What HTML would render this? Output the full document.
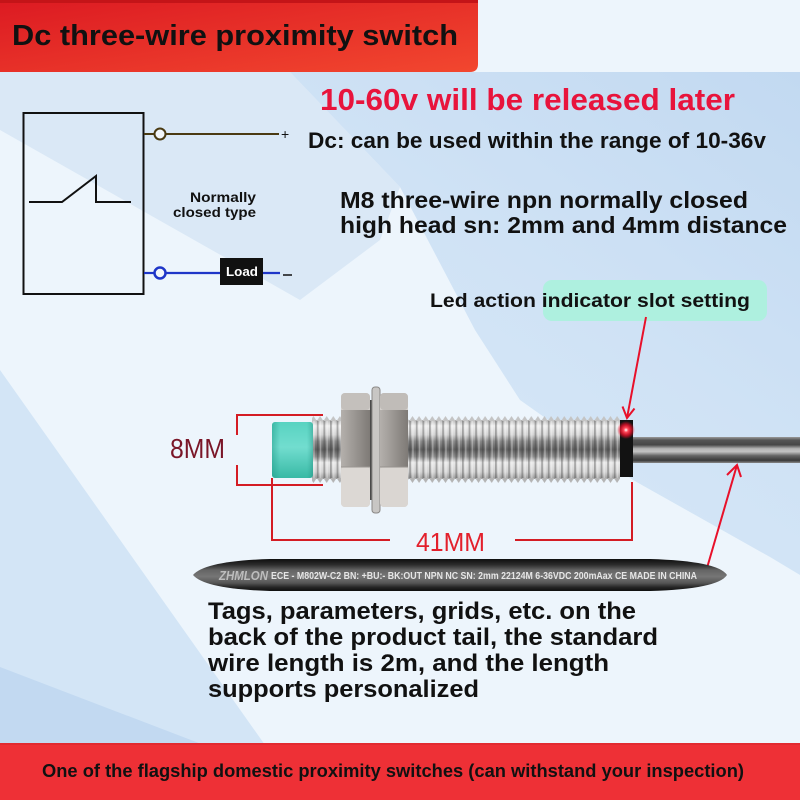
<!DOCTYPE html>
<html><head><meta charset="utf-8"><style>
html,body{margin:0;padding:0;background:#fff;}
svg{display:block;}
text{font-family:"Liberation Sans",sans-serif;}
</style></head><body>
<svg width="800" height="800" viewBox="0 0 800 800" xmlns="http://www.w3.org/2000/svg">
<defs>
<linearGradient id="hdr" x1="0" y1="0" x2="1" y2="1"><stop offset="0" stop-color="#dc1a22"/><stop offset="1" stop-color="#f2472f"/></linearGradient>
<linearGradient id="rw" x1="1" y1="0" x2="0.3" y2="1"><stop offset="0" stop-color="#c2d9f1"/><stop offset="0.5" stop-color="#cfe2f5"/><stop offset="1" stop-color="#d9e9f7"/></linearGradient>
<linearGradient id="metalV" x1="0" y1="0" x2="0" y2="1">
<stop offset="0" stop-color="#b8b8b8"/><stop offset="0.1" stop-color="#efefef"/><stop offset="0.25" stop-color="#d2d2d2"/><stop offset="0.36" stop-color="#8a8a8a"/><stop offset="0.5" stop-color="#5e5e5e"/><stop offset="0.62" stop-color="#8c8c8c"/><stop offset="0.72" stop-color="#e8e8e8"/><stop offset="0.88" stop-color="#d2d2d2"/><stop offset="1" stop-color="#9a9a9a"/></linearGradient>
<pattern id="thr" patternUnits="userSpaceOnUse" x="0" y="0" width="6.6" height="800">
<rect x="0" y="420" width="1.8" height="59" fill="#333" opacity="0.35"/>
<rect x="3" y="420" width="1.5" height="59" fill="#fff" opacity="0.35"/>
<path d="M0,421 L3.3,416 L6.6,421 Z" fill="#c4c4c4"/>
<path d="M0,478 L3.3,483 L6.6,478 Z" fill="#b4b4b4"/>
</pattern>
<linearGradient id="cyan" x1="0" y1="0" x2="0" y2="1"><stop offset="0" stop-color="#58d3c1"/><stop offset="0.45" stop-color="#72ddcf"/><stop offset="1" stop-color="#38b9a5"/></linearGradient>
<linearGradient id="cyanH" x1="0" y1="0" x2="1" y2="0"><stop offset="0" stop-color="#1f9a88" stop-opacity="0.5"/><stop offset="0.2" stop-color="#1f9a88" stop-opacity="0"/><stop offset="0.85" stop-color="#1f9a88" stop-opacity="0"/><stop offset="1" stop-color="#1f7a6c" stop-opacity="0.35"/></linearGradient>
<linearGradient id="nutMid" x1="0" y1="0" x2="1" y2="0"><stop offset="0" stop-color="#b4b0ac"/><stop offset="1" stop-color="#7e7a76"/></linearGradient>
<linearGradient id="cable" x1="0" y1="0" x2="0" y2="1">
<stop offset="0" stop-color="#9a9a9a"/><stop offset="0.12" stop-color="#555"/><stop offset="0.3" stop-color="#474747"/><stop offset="0.45" stop-color="#b4b4b4"/><stop offset="0.56" stop-color="#c4c4c4"/><stop offset="0.72" stop-color="#656565"/><stop offset="0.9" stop-color="#3a3a3a"/><stop offset="1" stop-color="#8a8a8a"/></linearGradient>
<linearGradient id="strip" x1="0" y1="0" x2="0" y2="1">
<stop offset="0" stop-color="#0e0e0e"/><stop offset="0.18" stop-color="#2c2c2c"/><stop offset="0.35" stop-color="#656565"/><stop offset="0.55" stop-color="#767676"/><stop offset="0.75" stop-color="#555"/><stop offset="0.88" stop-color="#262626"/><stop offset="1" stop-color="#0e0e0e"/></linearGradient>
<radialGradient id="led"><stop offset="0" stop-color="#fff"/><stop offset="0.25" stop-color="#ff4a5a"/><stop offset="0.6" stop-color="#e8102a" stop-opacity="0.8"/><stop offset="1" stop-color="#e8102a" stop-opacity="0"/></radialGradient>
</defs>

<!-- background -->
<rect x="0" y="0" width="800" height="800" fill="#edf5fc"/>
<polygon points="0,72 290,72 400,187 380,240 300,300 0,130" fill="#dae8f6"/>
<polygon points="290,72 800,72 800,575 770,557 633,480 520,400 475,330 400,187" fill="url(#rw)"/>
<polygon points="0,370 265,745 0,745" fill="#d3e5f6"/>
<polygon points="0,667 204,745 0,745" fill="#c2d9f1"/>

<!-- header -->
<path d="M0,0 H478 V64 Q478,72 470,72 H0 Z" fill="url(#hdr)"/>
<rect x="0" y="0" width="478" height="3" fill="#c41418"/>
<text x="12" y="45" font-size="29" font-weight="bold" fill="#111" textLength="446" lengthAdjust="spacingAndGlyphs">Dc three-wire proximity switch</text>

<!-- right texts -->
<text x="320" y="110" font-size="31" font-weight="bold" fill="#e8143c" textLength="415" lengthAdjust="spacingAndGlyphs">10-60v will be released later</text>
<text x="308" y="148" font-size="22" font-weight="bold" fill="#111" textLength="458" lengthAdjust="spacingAndGlyphs">Dc: can be used within the range of 10-36v</text>
<text x="340" y="208" font-size="23" font-weight="bold" fill="#111" textLength="408" lengthAdjust="spacingAndGlyphs">M8 three-wire npn normally closed</text>
<text x="340" y="233" font-size="23" font-weight="bold" fill="#111" textLength="447" lengthAdjust="spacingAndGlyphs">high head sn: 2mm and 4mm distance</text>

<!-- circuit -->
<rect x="23.5" y="113" width="120" height="181" fill="none" stroke="#111" stroke-width="2"/>
<polyline points="29,202 62,202 96,176 96,202 131,202" fill="none" stroke="#111" stroke-width="2"/>
<line x1="144" y1="134" x2="154.5" y2="134" stroke="#4a3a12" stroke-width="2"/>
<circle cx="160" cy="134" r="5.5" fill="#f2f6fa" stroke="#4a3a12" stroke-width="2"/>
<line x1="165.5" y1="134" x2="279" y2="134" stroke="#4a3a12" stroke-width="2"/>
<text x="281" y="139" font-size="14" fill="#111">+</text>
<line x1="144" y1="273" x2="154.5" y2="273" stroke="#1f36c8" stroke-width="2.2"/>
<circle cx="160" cy="273" r="5.5" fill="#f2f6fa" stroke="#1f36c8" stroke-width="2.5"/>
<line x1="165.5" y1="273" x2="221" y2="273" stroke="#1f36c8" stroke-width="2.2"/>
<rect x="220" y="258" width="43" height="27" fill="#111"/>
<text x="226" y="276" font-size="13" font-weight="bold" fill="#fff" textLength="32" lengthAdjust="spacingAndGlyphs">Load</text>
<line x1="263" y1="273" x2="280" y2="273" stroke="#1f36c8" stroke-width="2.2"/>
<line x1="283" y1="275" x2="292" y2="275" stroke="#111" stroke-width="1.5"/>
<text x="190" y="202" font-size="14" font-weight="bold" fill="#111" textLength="66" lengthAdjust="spacingAndGlyphs">Normally</text>
<text x="173" y="217" font-size="14" font-weight="bold" fill="#111" textLength="83" lengthAdjust="spacingAndGlyphs">closed type</text>

<!-- LED label -->
<rect x="543" y="280" width="224" height="41" rx="9" fill="#aef0df"/>
<text x="430" y="307" font-size="19" font-weight="bold" fill="#111" textLength="320" lengthAdjust="spacingAndGlyphs">Led action indicator slot setting</text>

<!-- sensor: cable -->
<rect x="633" y="437" width="167" height="26" fill="url(#cable)"/>
<!-- threaded body -->
<rect x="408" y="420" width="212" height="59" fill="url(#metalV)"/>
<rect x="408" y="416" width="212" height="67" fill="url(#thr)"/>
<!-- collar -->
<rect x="312" y="420" width="29" height="59" fill="url(#metalV)"/>
<rect x="312" y="416" width="29" height="67" fill="url(#thr)"/>
<!-- cyan head -->
<rect x="272" y="422" width="41" height="56" rx="3" fill="url(#cyan)"/>
<rect x="272" y="422" width="41" height="56" rx="3" fill="url(#cyanH)"/>
<!-- lock washer dark -->
<rect x="366" y="400" width="16" height="100" fill="#4a4a4a"/>
<!-- nut1 -->
<rect x="341" y="393" width="29" height="114" rx="4" fill="#d4d0cc"/>
<rect x="341" y="393" width="29" height="17" rx="4" fill="#c4c0bc"/>
<rect x="341" y="410" width="29" height="57" fill="url(#nutMid)"/>
<rect x="341" y="467" width="29" height="40" rx="4" fill="#dcd8d4"/>
<line x1="341" y1="467" x2="370" y2="467" stroke="#9a9692" stroke-width="1"/>
<!-- washer -->
<rect x="372" y="387" width="8" height="126" rx="3" fill="#c8c6c4" stroke="#8a8886" stroke-width="1"/>
<!-- nut2 -->
<rect x="380" y="393" width="28" height="114" rx="4" fill="#d4d0cc"/>
<rect x="380" y="393" width="28" height="17" rx="4" fill="#c0bcb8"/>
<rect x="380" y="410" width="28" height="57" fill="url(#nutMid)"/>
<rect x="380" y="467" width="28" height="40" rx="4" fill="#dad6d2"/>
<line x1="380" y1="467" x2="408" y2="467" stroke="#96928e" stroke-width="1"/>
<!-- black ring -->
<rect x="620" y="420" width="13" height="57" fill="#121212"/>
<!-- LED -->
<circle cx="626" cy="430" r="9" fill="url(#led)"/>

<!-- dimension lines -->
<polyline points="323,415 237,415 237,435" fill="none" stroke="#d41c24" stroke-width="2"/>
<polyline points="237,465 237,485 323,485" fill="none" stroke="#d41c24" stroke-width="2"/>
<text x="170" y="458" font-size="28" fill="#7a1628" textLength="55" lengthAdjust="spacingAndGlyphs">8MM</text>
<polyline points="272,478 272,540 390,540" fill="none" stroke="#d41c24" stroke-width="2"/>
<polyline points="515,540 632,540 632,482" fill="none" stroke="#d41c24" stroke-width="2"/>
<text x="416" y="551" font-size="26" fill="#e3202c" textLength="69" lengthAdjust="spacingAndGlyphs">41MM</text>

<!-- arrows -->
<line x1="646" y1="317" x2="627" y2="418" stroke="#e8102a" stroke-width="2"/>
<polyline points="634.5,408.5 627,418 622.5,406.5" fill="none" stroke="#e8102a" stroke-width="2"/>
<line x1="707" y1="568" x2="737" y2="465" stroke="#e8102a" stroke-width="2"/>
<polyline points="741,477 737,465 727,475" fill="none" stroke="#e8102a" stroke-width="2"/>

<!-- label strip -->
<path d="M193,575 Q205,561 270,559 L650,559 Q718,561 727,575 Q718,589 650,591 L270,591 Q205,589 193,575 Z" fill="url(#strip)"/>
<text x="219" y="580" font-family="Liberation Serif,serif" font-style="italic" font-weight="bold" font-size="13" fill="#bdbdbd" textLength="49" lengthAdjust="spacingAndGlyphs">ZHMLON</text>
<text x="271" y="579" font-size="10" font-weight="bold" fill="#e6e6e6" textLength="426" lengthAdjust="spacingAndGlyphs">ECE - M802W-C2 BN: +BU:- BK:OUT NPN NC SN: 2mm 22124M 6-36VDC 200mAax  CE MADE IN CHINA</text>

<!-- tags paragraph -->
<text x="208" y="619" font-size="24" font-weight="bold" fill="#111" textLength="428" lengthAdjust="spacingAndGlyphs">Tags, parameters, grids, etc. on the</text>
<text x="208" y="645" font-size="24" font-weight="bold" fill="#111" textLength="450" lengthAdjust="spacingAndGlyphs">back of the product tail, the standard</text>
<text x="208" y="671" font-size="24" font-weight="bold" fill="#111" textLength="401" lengthAdjust="spacingAndGlyphs">wire length is 2m, and the length</text>
<text x="208" y="697" font-size="24" font-weight="bold" fill="#111" textLength="271" lengthAdjust="spacingAndGlyphs">supports personalized</text>

<!-- bottom banner -->
<rect x="0" y="743" width="800" height="57" fill="#ee3036"/>
<rect x="0" y="743" width="800" height="2" fill="#e22a30"/>
<text x="42" y="777" font-size="18" font-weight="bold" fill="#111" textLength="702" lengthAdjust="spacingAndGlyphs">One of the flagship domestic proximity switches (can withstand your inspection)</text>
</svg>
</body></html>
